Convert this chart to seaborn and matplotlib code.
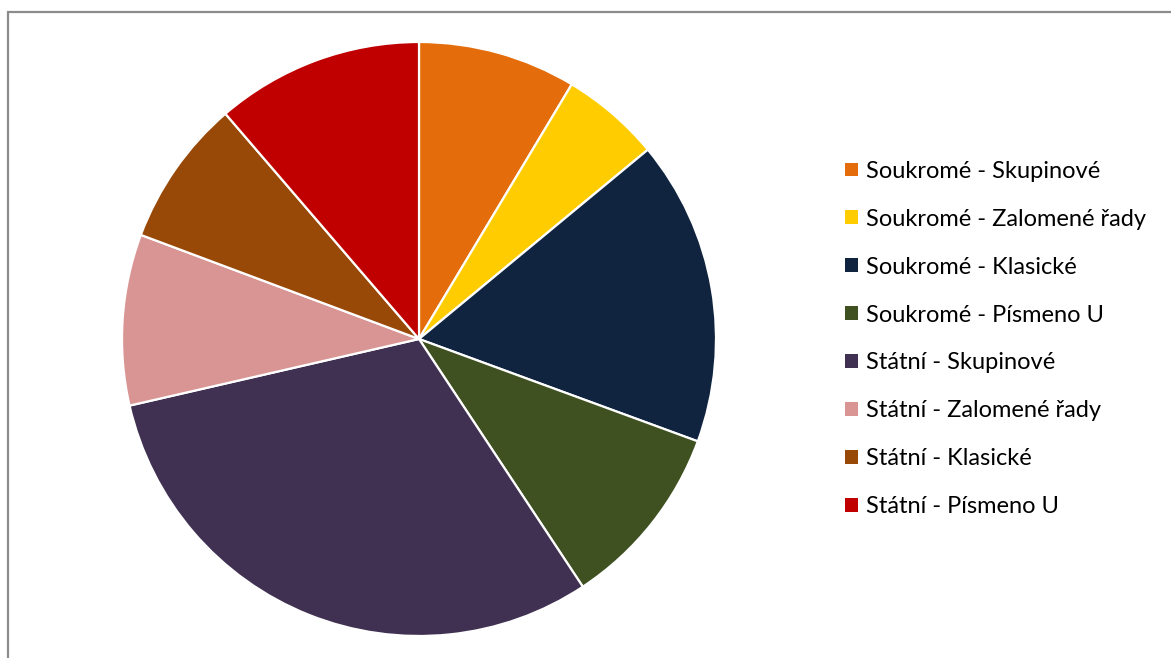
import matplotlib
matplotlib.use("Agg")
from matplotlib import pyplot as plt
from matplotlib.patches import Rectangle, Patch
import seaborn as sns

labels = ['Soukromé - Skupinové', 'Soukromé - Zalomené řady', 'Soukromé - Klasické',
          'Soukromé - Písmeno U', 'Státní - Skupinové', 'Státní - Zalomené řady',
          'Státní - Klasické', 'Státní - Písmeno U']
values = [8.6, 5.4, 16.6, 10.1, 30.7, 9.3, 8.0, 11.3]
colors = ['#E46C0A', '#FFCC00', '#10243F', '#3F5121',
          '#403152', '#D99594', '#984807', '#C00000']

sns.set_theme(style='white')
plt.rcParams['font.family'] = ['Lato', 'DejaVu Sans']

W, H = 1171, 658
fig = plt.figure(figsize=(W / 100, H / 100), dpi=100)

# chart frame (cut off on right and bottom)
fig.patches.append(Rectangle((7.5 / W, -0.05), 1.2, (H - 12) / H + 0.05,
                             transform=fig.transFigure, fill=False,
                             edgecolor='#8c8c8c', linewidth=1.6))

cx, cy, r = 419, 339, 297
ax = fig.add_axes([(cx - r) / W, (H - cy - r) / H, 2 * r / W, 2 * r / H])
pal = sns.color_palette(colors)
wedges, _ = ax.pie(values, colors=pal, startangle=90, counterclock=False,
                   radius=1, wedgeprops=dict(edgecolor='white', linewidth=1.6))
for w in wedges:
    w.set_clip_on(False)
ax.set_xlim(-1, 1)
ax.set_ylim(-1, 1)
ax.set_aspect('equal')
ax.axis('off')

handles = [Patch(facecolor=c, edgecolor='none') for c in pal]
leg = fig.legend(handles, labels, loc='center left',
                 bbox_to_anchor=(845 / W, 1 - 339 / H), frameon=False,
                 fontsize=17, handlelength=0.55, handleheight=0.52,
                 handletextpad=0.34, labelspacing=1.14, borderaxespad=0,
                 borderpad=0)
for t in leg.get_texts():
    t.set_color('black')

plt.savefig('out.png', dpi=100)
